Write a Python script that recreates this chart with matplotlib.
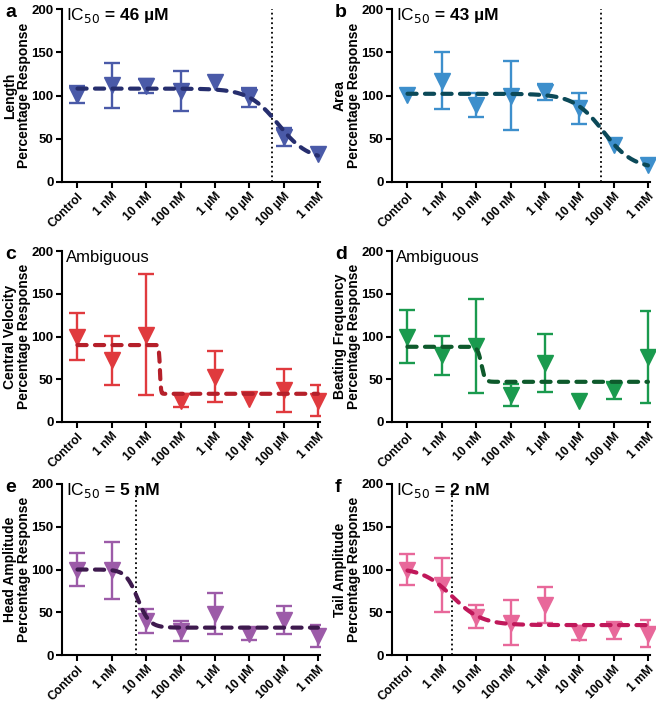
import numpy as np
import matplotlib
matplotlib.use('Agg')
import matplotlib.pyplot as plt

plt.rcParams['font.family'] = ['Liberation Sans', 'DejaVu Sans']

# x categories (Control, then log10 concentration steps)
doses = ['Control', '1 nM', '10 nM', '100 nM', '1 µM', '10 µM', '100 µM', '1 mM']

# panel a - Length
len_mean = [101, 112, 111, 105, 116, 98, 52, 32]
len_err = [10, 26, 8, 23, 0, 11, 10, 0]
# panel b - Area
area_mean = [101, 117, 89, 100, 104, 85, 43, 20]
area_err = [0, 33, 14, 40, 9, 18, 0, 0]
# panel c - Central velocity
vel_mean = [100, 72, 102, 25, 53, 27, 37, 25]
vel_err = [28, 29, 71, 8, 30, 0, 25, 18]
# panel d - Beating frequency
beat_mean = [100, 78, 89, 32, 69, 25, 37, 76]
beat_err = [31, 23, 55, 13, 34, 0, 10, 54]
# panel e - Head amplitude
head_mean = [100, 99, 40, 28, 48, 24, 41, 22]
head_err = [19, 33, 14, 12, 24, 7, 16, 13]
# panel f - Tail amplitude
tail_mean = [100, 82, 45, 38, 58, 26, 29, 25]
tail_err = [18, 32, 14, 26, 21, 8, 10, 16]

# fitted curve parameters: top, bottom, centre (x index), hill
fit_a = (108, 25, 5.85, 1.0)
fit_b = (102, 15, 5.70, 1.0)
fit_c = (90, 33, 2.40, 30.0)
fit_d = (88, 47, 2.15, 8.0)
fit_e = (100, 32, 1.75, 2.5)
fit_f = (102, 35, 1.30, 1.0)

# IC50 marker lines, in x index units (log10(M) + 10)
ic50_a = np.log10(46e-6) + 10
ic50_b = np.log10(43e-6) + 10
ic50_e = np.log10(5e-9) + 10
ic50_f = np.log10(2e-9) + 10


def logistic(x, top, bottom, centre, hill):
    return bottom + (top - bottom) / (1 + 10 ** ((x - centre) * hill))


panels = [
    ('a', 'Length', len_mean, len_err, fit_a, '#4a5aa8', '#262e6e', ic50_a, ('46 µM', True)),
    ('b', 'Area', area_mean, area_err, fit_b, '#3d8fcc', '#0b4958', ic50_b, ('43 µM', True)),
    ('c', 'Central Velocity', vel_mean, vel_err, fit_c, '#e03a3e', '#b5202a', None, ('Ambiguous', False)),
    ('d', 'Beating Frequency', beat_mean, beat_err, fit_d, '#1a9a4e', '#0e5a2c', None, ('Ambiguous', False)),
    ('e', 'Head Amplitude', head_mean, head_err, fit_e, '#9c5ba8', '#3e1a4e', ic50_e, ('5 nM', True)),
    ('f', 'Tail Amplitude', tail_mean, tail_err, fit_f, '#e8689a', '#c0185a', ic50_f, ('2 nM', True)),
]

W, H = 656, 706
fig = plt.figure(figsize=(W / 100, H / 100), dpi=100)
renderer = fig.canvas.get_renderer()

col_left = [62, 392]
col_right = [320, 650]
row_top = [9, 251, 484]
row_bot = [182, 422, 655]

x = np.arange(len(doses))
xs = np.linspace(0, 7, 300)

for i, (letter, name, mean, err, fit, col, ccol, ic50, note) in enumerate(panels):
    r, c = divmod(i, 2)
    l, rr = col_left[c], col_right[c]
    t, b = row_top[r], row_bot[r]
    ax = fig.add_axes([l / W, 1 - b / H, (rr - l) / W, (b - t) / H])

    mean = np.array(mean, float)
    err = np.array(err, float)
    has_err = err > 0
    ax.errorbar(x[has_err], mean[has_err], yerr=err[has_err], fmt='none', ecolor=col,
                elinewidth=1.7, capsize=5.5, capthick=1.7, zorder=2)
    ax.plot(x, mean, 'v', color=col, ms=11.5, zorder=3, clip_on=False)
    ax.plot(xs, logistic(xs, *fit), color=ccol, lw=3.0, dashes=(2.2, 2.0),
            dash_capstyle='round', zorder=4)
    if ic50 is not None:
        ax.axvline(ic50, color='black', ls=':', lw=1.3, zorder=1)

    ax.set_xlim(-0.45, 7.06)
    ax.set_ylim(0, 200)
    ax.set_yticks([0, 50, 100, 150, 200])
    ax.set_xticks(x)
    ax.set_xticklabels(doses, rotation=45, ha='right', rotation_mode='anchor',
                       fontsize=8.8, fontweight='bold')
    for lab in ax.get_yticklabels():
        lab.set_fontweight('bold')
        lab.set_fontsize(9.5)
    ax.tick_params(direction='out', width=1.5, length=4, pad=2)
    ax.spines['top'].set_visible(False)
    ax.spines['right'].set_visible(False)
    ax.spines['left'].set_linewidth(1.5)
    ax.spines['bottom'].set_linewidth(1.5)
    ax.set_ylabel(name + '\nPercentage Response', fontsize=10, fontweight='bold',
                  linespacing=1.05, va='center')
    ax.yaxis.set_label_coords(-45.0 / (rr - l), 0.5)

    txt, is_ic = note
    ty = 1 - 11 / (b - t)
    if is_ic:
        t1 = ax.text(0.015, ty, 'IC$_{50}$', transform=ax.transAxes, fontsize=12.5,
                     va='baseline', ha='left')
        ext = t1.get_window_extent(renderer)
        x1 = ax.transAxes.inverted().transform((ext.x1, ext.y0))[0]
        ax.text(x1, ty, ' = ' + txt, transform=ax.transAxes, fontsize=12.5,
                fontweight='bold', va='baseline', ha='left')
    else:
        ax.text(0.015, ty, txt, transform=ax.transAxes, fontsize=12,
                va='baseline', ha='left')

    fig.text((l - 57) / W, 1 - (t - 5) / H, letter, fontsize=14, fontweight='bold',
             va='top', ha='left')

fig.savefig('out.png', dpi=100)
